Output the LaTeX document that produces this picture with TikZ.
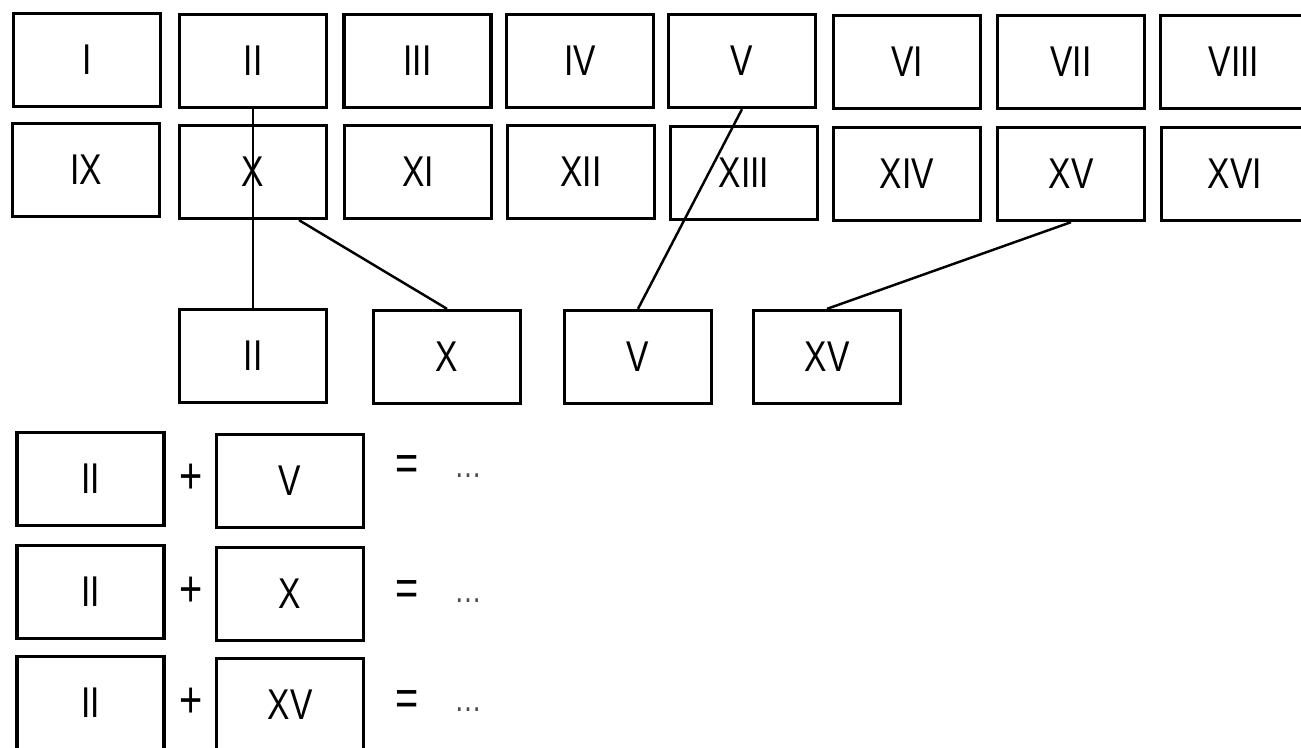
\documentclass[tikz,border=0pt]{standalone}
\usepackage{fontspec}
\setmainfont{Liberation Sans}[FakeStretch=0.78]
\usetikzlibrary{calc}

\tikzset{
	tile/.style={draw, line width=1.9pt, minimum width=2.94cm, minimum height=1.86cm, inner sep=0pt, font=\fontsize{24.5}{28}\selectfont},
	sign/.style={inner sep=0pt, font=\fontsize{29}{32}\selectfont},
	dots/.style={inner sep=0pt, text=black!70, font=\fontsize{20}{24}\selectfont},
	link/.style={line width=1.4pt},
}

\begin{document}
\begin{tikzpicture}[x=0.02cm, y=-0.02cm]
			%%%%% START %%%%%
			
			\useasboundingbox (0, 0) rectangle (1301, 747);
			\clip (0, 0) rectangle (1301, 747);
			
			% first row of cards
			\node[tile] (b1) at (87, 60) {I};
			\node[tile] (b2) at (253, 61) {II};
			\node[tile] (b3) at (417.5, 61) {III};
			\node[tile] (b4) at (580, 61) {IV};
			\node[tile] (b5) at (742, 61) {V};
			\node[tile] (b6) at (907, 62) {VI};
			\node[tile] (b7) at (1071, 62) {VII};
			\node[tile] (b8) at (1234, 62) {VIII};
			
			% second row of cards
			\node[tile] (b9) at (86, 170) {IX};
			\node[tile] (b10) at (253, 172) {X};
			\node[tile] (b11) at (418, 172) {XI};
			\node[tile] (b12) at (581, 172) {XII};
			\node[tile] (b13) at (744, 173) {XIII};
			\node[tile] (b14) at (907, 174) {XIV};
			\node[tile] (b15) at (1071, 174) {XV};
			\node[tile] (b16) at (1235, 174) {XVI};
			
			% picked cards
			\node[tile] (c2) at (253, 356) {II};
			\node[tile] (c10) at (447, 357) {X};
			\node[tile] (c5) at (638, 357) {V};
			\node[tile] (c15) at (827, 357) {XV};
			
			\draw[link] (b2.south) -- (c2.north);
			\draw[link] ($(b10.south)+(46, 0)$) -- (c10.north);
			\draw[link] (b5.south) -- (c5.north);
			\draw[link] (b15.south) -- (c15.north);
			
			% sums
			\node[tile] (s1a) at (90.5, 479) {II};
			\node[sign] (p1) at (191, 479) {+};
			\node[tile] (s1b) at (290, 481) {V};
			\node[sign] (e1) at (407, 468) {=};
			\node[dots] (d1) at (468, 476) {\ldots};
			
			\node[tile] (s2a) at (90.5, 592) {II};
			\node[sign] (p2) at (191, 592) {+};
			\node[tile] (s2b) at (290, 594) {X};
			\node[sign] (e2) at (407, 593) {=};
			\node[dots] (d2) at (468, 601) {\ldots};
			
			\node[tile] (s3a) at (90.5, 703) {II};
			\node[sign] (p3) at (191, 703) {+};
			\node[tile] (s3b) at (290, 705) {XV};
			\node[sign] (e3) at (407, 703) {=};
			\node[dots] (d3) at (468, 710) {\ldots};
			
			%%%%% END %%%%%
\end{tikzpicture}
\end{document}
